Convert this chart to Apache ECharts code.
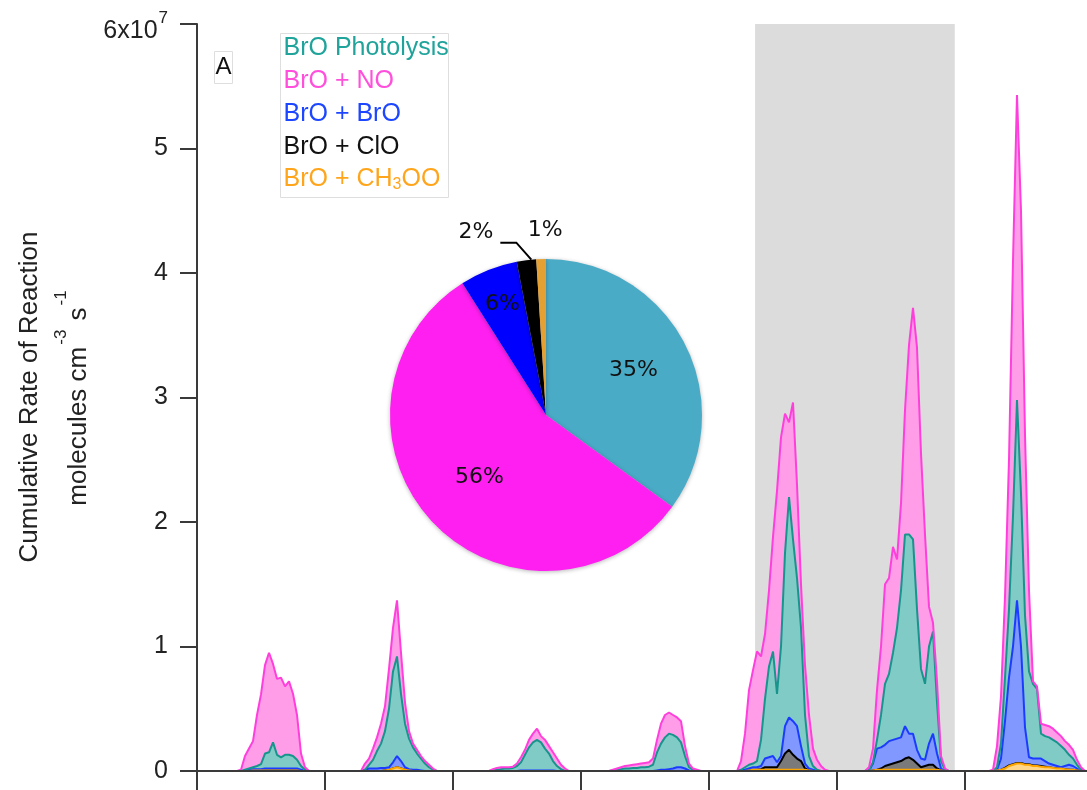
<!DOCTYPE html>
<html>
<head>
<meta charset="utf-8">
<script src="https://cdn.jsdelivr.net/npm/echarts@6/dist/echarts.min.js"></script>
<style>
  html, body { margin: 0; padding: 0; background: #ffffff; }
  #chart { width: 1087px; height: 790px; }
</style>
</head>
<body>
<div id="chart"></div>
<script>
// Each day is sampled every 1/32 day, from sample 6 to sample 31 of the day;
// rates are zero outside that daylight window.
const SAMPLES_PER_DAY = 32;
const FIRST_SAMPLE = 6;

// Rates in units of 1e7 molecules cm-3 s-1, one row per day (days 0..6).
const rateCH3OO = [
  [0,0,0,0,0,0,0,0, 0.005,0.005,0.005,0.005,0.005,0.005,0.005,0.005,0.005,0.005,0.005,0.005, 0,0,0,0,0,0],
  [0,0,0,0,0,0,0,0,0, 0.005,0.01,0.02,0.03,0.02,0.01,0.005, 0,0,0,0,0,0,0,0,0,0],
  [0,0,0,0,0,0,0,0,0,0,0,0,0,0,0,0,0,0,0,0,0,0,0,0,0,0],
  [0,0,0,0,0,0,0,0,0,0,0,0,0,0,0,0,0,0,0,0,0,0,0,0,0,0],
  [0,0,0,0, 0.005,0.01,0.01,0.01,0.01,0.01,0.01,0.01,0.01,0.01,0.01,0.01,0.01,0.01,0.01,0.005, 0,0,0,0,0,0],
  [0,0,0, 0.005,0.01,0.01,0.01,0.01,0.01,0.01,0.01,0.01,0.01,0.01,0.01,0.01,0.01,0.01,0.01,0.01,0.005, 0,0,0,0,0],
  [0,0, 0.005,0.01,0.02,0.04,0.05,0.06,0.06,0.05,0.05,0.04,0.04,0.035,0.03,0.03,0.025,0.02,0.02,0.015,0.01,0.01,0.005, 0,0,0]
];

const rateClO = [
  [0,0,0,0,0,0,0,0,0,0,0,0,0,0,0,0,0,0,0,0,0,0,0,0,0,0],
  [0,0,0,0,0,0,0,0,0,0,0,0,0,0,0,0,0,0,0,0,0,0,0,0,0,0],
  [0,0,0,0,0,0,0,0,0,0,0,0,0,0,0,0,0,0,0,0,0,0,0,0,0,0],
  [0,0,0,0,0,0,0,0,0,0,0,0,0,0,0,0,0,0,0,0,0,0,0,0,0,0],
  [0,0,0,0,0,0,0, 0.005,0.02,0.02,0.02,0.02,0.07,0.13,0.16,0.12,0.09,0.07,0.01, 0,0,0,0,0,0,0],
  [0,0,0,0,0, 0.01,0.03,0.04,0.05,0.06,0.07,0.09,0.10,0.08,0.05,0.02,0.03,0.04,0.04,0.01, 0,0,0,0,0,0],
  [0,0,0,0, 0.005,0.005,0.005,0.005,0.005,0.005,0.005,0.005,0.005,0.005,0.005, 0,0,0,0,0,0,0,0,0,0,0]
];

const rateBrO = [
  [0,0,0,0,0,0,0, 0.01,0.01,0.01,0.01,0.015,0.015,0.015,0.015,0.015,0.015,0.015,0.015,0.015,0.01, 0,0,0,0,0],
  [0,0,0,0, 0.01,0.02,0.02,0.02,0.025,0.02,0.02,0.05,0.09,0.06,0.02,0.01,0.01,0.01,0.005, 0,0,0,0,0,0,0],
  [0,0,0,0,0,0,0,0,0,0,0, 0.005,0.005,0.005,0.005,0.005,0.005,0.005,0.005,0.005, 0,0,0,0,0,0],
  [0,0,0,0,0,0,0,0,0,0,0,0,0, 0.005,0.01,0.01,0.015,0.02,0.03,0.03,0.02,0.005, 0,0,0,0],
  [0,0, 0.005,0.01,0.015,0.02,0.02,0.025,0.07,0.08,0.09,0.04,0.04,0.22,0.26,0.27,0.26,0.12,0.04,0.015,0.01, 0,0,0,0,0],
  [0,0, 0.005,0.055,0.17,0.17,0.17,0.19,0.19,0.19,0.19,0.26,0.19,0.21,0.11,0.07,0.05,0.17,0.25,0.12,0.015, 0,0,0,0,0],
  [0,0, 0.005,0.09,0.375,0.705,0.945,1.305,0.935,0.295,0.055,0.055,0.055,0.06,0.045,0.03,0.025,0.02,0.01,0.025,0.04,0.03,0.015, 0,0,0]
];

const ratePhotolysis = [
  [0,0,0,0,0,0, 0.01,0.01,0.015,0.025,0.04,0.12,0.13,0.21,0.11,0.09,0.11,0.11,0.10,0.07,0.03,0.01, 0,0,0,0],
  [0,0,0,0, 0,0.03,0.07,0.14,0.195,0.295,0.47,0.73,0.80,0.54,0.35,0.245,0.18,0.13,0.095,0.06,0.03,0.01, 0,0,0,0],
  [0,0,0,0, 0.005,0.01,0.015,0.02,0.02,0.025,0.04,0.065,0.125,0.185,0.225,0.245,0.225,0.175,0.135,0.075,0.04,0.015, 0,0,0,0],
  [0,0, 0.005,0.01,0.015,0.02,0.02,0.025,0.025,0.03,0.03,0.035,0.05,0.145,0.21,0.26,0.285,0.27,0.24,0.20,0.10,0.025,0.01, 0,0,0],
  [0,0, 0.005,0.02,0.03,0.03,0.05,0.21,0.48,0.73,0.84,0.55,0.88,1.39,1.77,1.46,1.19,0.95,0.39,0.10,0.03,0.01, 0,0,0,0],
  [0,0,0, 0.01,0.07,0.26,0.49,0.54,0.70,0.89,1.18,1.54,1.60,1.56,1.13,0.72,0.61,0.78,0.82,0.41,0.06,0.01, 0,0,0,0],
  [0,0, 0.02,0.12,0.35,0.55,1.05,1.61,1.23,0.90,0.69,0.60,0.56,0.20,0.20,0.21,0.20,0.19,0.17,0.13,0.08,0.06,0.03,0.01, 0,0]
];

const rateNO = [
  [0,0,0,0,0, 0.01,0.11,0.16,0.21,0.41,0.56,0.71,0.80,0.63,0.61,0.64,0.55,0.59,0.50,0.36,0.10,0.02, 0,0,0,0],
  [0,0,0,0, 0.05,0.05,0.09,0.11,0.16,0.20,0.32,0.35,0.45,0.33,0.17,0.06,0.03,0.03,0.02,0.02,0.02,0.01, 0,0,0,0],
  [0,0,0,0, 0.01,0.015,0.015,0.01,0.01,0.01,0.02,0.04,0.04,0.06,0.07,0.09,0.05,0.07,0.06,0.07,0.06,0.035,0.02, 0,0,0],
  [0,0, 0.005,0.01,0.015,0.02,0.025,0.025,0.03,0.03,0.035,0.035,0.05,0.10,0.16,0.18,0.17,0.16,0.16,0.17,0.08,0.03,0.01,0.01, 0,0],
  [0,0, 0.07,0.27,0.60,0.75,0.88,0.67,0.52,0.61,0.92,1.63,1.68,1.12,0.60,1.10,0.75,0.35,0.40,0.33,0.14,0.08,0.04,0.01, 0,0],
  [0,0, 0.025,0.11,0.40,0.55,0.80,0.77,0.85,0.55,0.70,1.00,1.52,1.86,2.10,1.73,1.20,0.32,0.07,0.17,0.04,0.01, 0,0,0,0],
  [0, 0.01,0.17,0.38,0.65,1.20,2.05,2.45,2.27,1.45,0.65,0.02,0.02,0.08,0.09,0.09,0.09,0.08,0.08,0.07,0.08,0.07,0.04,0.02, 0,0]
];

// Shaded interval (days) and axis extents
const shadedDays = [4.36, 5.92];
const dayCount = 7;
const yMax = 6;

// Share of total BrO loss by pathway (%), clockwise from 12 o'clock
const pieNames = ['BrO Photolysis', 'BrO + NO', 'BrO + BrO', 'BrO + ClO', 'BrO + CH3OO'];
const pieShares = [35, 56, 6, 2, 1];
const pieColors = ['#4aabc6', '#ff1ff0', '#0000ff', '#000000', '#e4a032'];

// Legend entries (rich text keys allow the CH3 subscript)
const legendLabels = [
  { text: '{n|BrO Photolysis}', color: '#1fa39a' },
  { text: '{n|BrO + NO}', color: '#ff4fdb' },
  { text: '{n|BrO + BrO}', color: '#1c46ff' },
  { text: '{n|BrO + ClO}', color: '#111111' },
  { text: '{n|BrO + CH}{sub|3}{n|OO}', color: '#ffa51c' }
];

// Points are stored as [rate, time] so the rate column is the stacked one.
function toSeriesData(rows) {
  const pts = [[0, 0]];
  rows.forEach(function (row, d) {
    row.forEach(function (v, j) {
      pts.push([v, d + (FIRST_SAMPLE + j) / SAMPLES_PER_DAY]);
    });
  });
  return pts;
}

function areaSeries(name, rows, lineColor, fillColor, z, extra) {
  return Object.assign({
    name: name,
    type: 'line',
    stack: 'total',
    data: toSeriesData(rows),
    encode: { x: 1, y: 0 },
    symbol: 'none',
    showSymbol: false,
    z: z,
    lineStyle: { color: lineColor, width: 2 },
    itemStyle: { color: lineColor },
    areaStyle: { color: fillColor, opacity: 1 },
    emphasis: { disabled: true },
    silent: true
  }, extra || {});
}

const PIE_C = [546, 415];
const PIE_R = 156;
const insideLabelRadius = [0.63, 0.585, 0.76];

function sliceAngle(i, frac) {
  const total = pieShares.reduce(function (a, b) { return a + b; }, 0);
  let before = 0;
  for (let k = 0; k < i; k++) before += pieShares[k];
  return (before + pieShares[i] * frac) / total * 2 * Math.PI;
}

const FONT = 'Liberation Sans, Arial, sans-serif';
const AXIS_COLOR = '#3a3a3a';

const chart = echarts.init(document.getElementById('chart'), null, { renderer: 'canvas' });

const option = {
  animation: false,
  backgroundColor: '#ffffff',
  // the plot runs past the right edge of the canvas, so no outer-bounds fitting
  grid: { left: 197, width: 896, top: 24, bottom: 19, outerBoundsMode: 'none', containLabel: false },
  xAxis: [
    {
      type: 'value', min: 0, max: dayCount, interval: 1, position: 'bottom', z: 1.5,
      axisLine: { show: true, onZero: false, lineStyle: { color: AXIS_COLOR, width: 2 } },
      axisTick: { show: true, inside: false, length: 19, lineStyle: { color: AXIS_COLOR, width: 2 } },
      axisLabel: { show: false },
      splitLine: { show: false }
    },
    {
      type: 'value', min: 0, max: dayCount, position: 'top', z: 5,
      axisLine: { show: true, lineStyle: { color: AXIS_COLOR, width: 2 } },
      axisTick: { show: false }, axisLabel: { show: false }, splitLine: { show: false }
    }
  ],
  yAxis: {
    type: 'value', min: 0, max: yMax, interval: 1, z: 5,
    axisLine: { show: true, lineStyle: { color: AXIS_COLOR, width: 2 } },
    axisTick: { show: true, inside: false, length: 17, lineStyle: { color: AXIS_COLOR, width: 2 } },
    splitLine: { show: false },
    axisLabel: {
      margin: 29, fontSize: 25, color: '#222', fontFamily: FONT,
      formatter: function (v) { return v === yMax ? '{n|6x10}{s|7}' : String(v); },
      rich: {
        n: { fontSize: 25, color: '#222', fontFamily: FONT, padding: [14, 0, 0, 0] },
        s: { fontSize: 17, color: '#222', fontFamily: FONT, verticalAlign: 'top', padding: [5, 0, 0, 1] }
      }
    }
  },
  series: [
    areaSeries('BrO + CH3OO', rateCH3OO, '#ffa500', '#ffd68a', 3),
    areaSeries('BrO + ClO', rateClO, '#000000', '#7a7a7a', 2, {
      markArea: {
        silent: true,
        itemStyle: { color: '#dcdcdc' },
        data: [[{ xAxis: shadedDays[0] }, { xAxis: shadedDays[1] }]]
      }
    }),
    areaSeries('BrO + BrO', rateBrO, '#1b3cff', '#8098ff', 2),
    areaSeries('BrO Photolysis', ratePhotolysis, '#17958d', '#80cbc6', 2),
    areaSeries('BrO + NO', rateNO, '#ff3fdb', '#ff9de9', 2),
    {
      name: 'Share',
      type: 'pie',
      center: PIE_C,
      radius: PIE_R,
      startAngle: 90,
      clockwise: true,
      silent: true,
      z: 6,
      avoidLabelOverlap: false,
      itemStyle: { borderWidth: 0, shadowBlur: 4, shadowColor: 'rgba(0,0,0,0.28)', shadowOffsetY: 1 },
      label: {
        show: true, position: 'inside', formatter: '{c}%',
        fontSize: 22, color: '#111', fontFamily: 'DejaVu Sans, sans-serif'
      },
      labelLine: { show: false },
      labelLayout: function (p) {
        const i = p.dataIndex;
        if (i < 3) {
          const a = sliceAngle(i, 0.5);
          const r = PIE_R * insideLabelRadius[i];
          return { x: PIE_C[0] + r * Math.sin(a), y: PIE_C[1] - r * Math.cos(a), align: 'center', verticalAlign: 'middle' };
        }
        const a = sliceAngle(i, i === 3 ? 0.75 : 0.5);
        const ex = PIE_C[0] + PIE_R * Math.sin(a);
        const ey = PIE_C[1] - PIE_R * Math.cos(a);
        if (i === 3) {
          return {
            x: ex - 38, y: ey - 27, align: 'right', verticalAlign: 'middle',
            labelLinePoints: [[ex, ey], [ex - 15, ey - 17], [ex - 31, ey - 17]]
          };
        }
        return { x: ex + 4, y: ey - 29, align: 'center', verticalAlign: 'middle' };
      },
      data: pieShares.map(function (v, i) {
        const item = { value: v, name: pieNames[i], itemStyle: { color: pieColors[i] } };
        if (i >= 3) {
          item.label = { position: 'outside' };
          item.labelLine = { show: i === 3, length: 10, length2: 10, lineStyle: { color: '#000', width: 2 } };
        }
        return item;
      })
    }
  ],
  graphic: [
    // panel letter
    {
      type: 'group', left: 214, top: 51, z: 10,
      children: [
        { type: 'rect', z: 10, shape: { x: 0, y: 0, width: 18, height: 32 }, style: { fill: '#fff', stroke: '#dedede', lineWidth: 1 } },
        { type: 'text', z: 11, x: 9, y: 16, style: { text: 'A', fontSize: 24, fontFamily: FONT, fill: '#111', align: 'center', verticalAlign: 'middle' } }
      ]
    },
    // legend box
    {
      type: 'group', left: 280, top: 33, z: 10,
      children: [
        { type: 'rect', z: 10, shape: { x: 0, y: 0, width: 168, height: 164 }, style: { fill: '#fff', stroke: '#dedede', lineWidth: 1 } }
      ].concat(legendLabels.map(function (e, i) {
        return {
          type: 'text', z: 11, x: 3, y: 15 + i * 32.75,
          style: {
            text: e.text, align: 'left', verticalAlign: 'middle', fill: e.color,
            rich: {
              n: { fontSize: 25, fontFamily: FONT, fill: e.color },
              sub: { fontSize: 16, fontFamily: FONT, fill: e.color, padding: [10, 0, 0, 0] }
            }
          }
        };
      }))
    },
    // y-axis title, two rotated lines
    {
      type: 'text', x: 30, y: 397, rotation: Math.PI / 2, z: 10,
      style: { text: 'Cumulative Rate of Reaction', fontSize: 26, fontFamily: FONT, fill: '#222', align: 'center', verticalAlign: 'middle' }
    },
    {
      type: 'text', x: 72, y: 397, rotation: Math.PI / 2, z: 10,
      style: {
        text: '{n|molecules cm}{s|-3}{n| s}{s|-1}', align: 'center', verticalAlign: 'middle', fill: '#222',
        rich: {
          n: { fontSize: 26, fontFamily: FONT, fill: '#222', padding: [13, 0, 0, 0] },
          s: { fontSize: 17, fontFamily: FONT, fill: '#222', verticalAlign: 'top', padding: [0, 2, 0, 2] }
        }
      }
    }
  ]
};

chart.setOption(option);
</script>
</body>
</html>
